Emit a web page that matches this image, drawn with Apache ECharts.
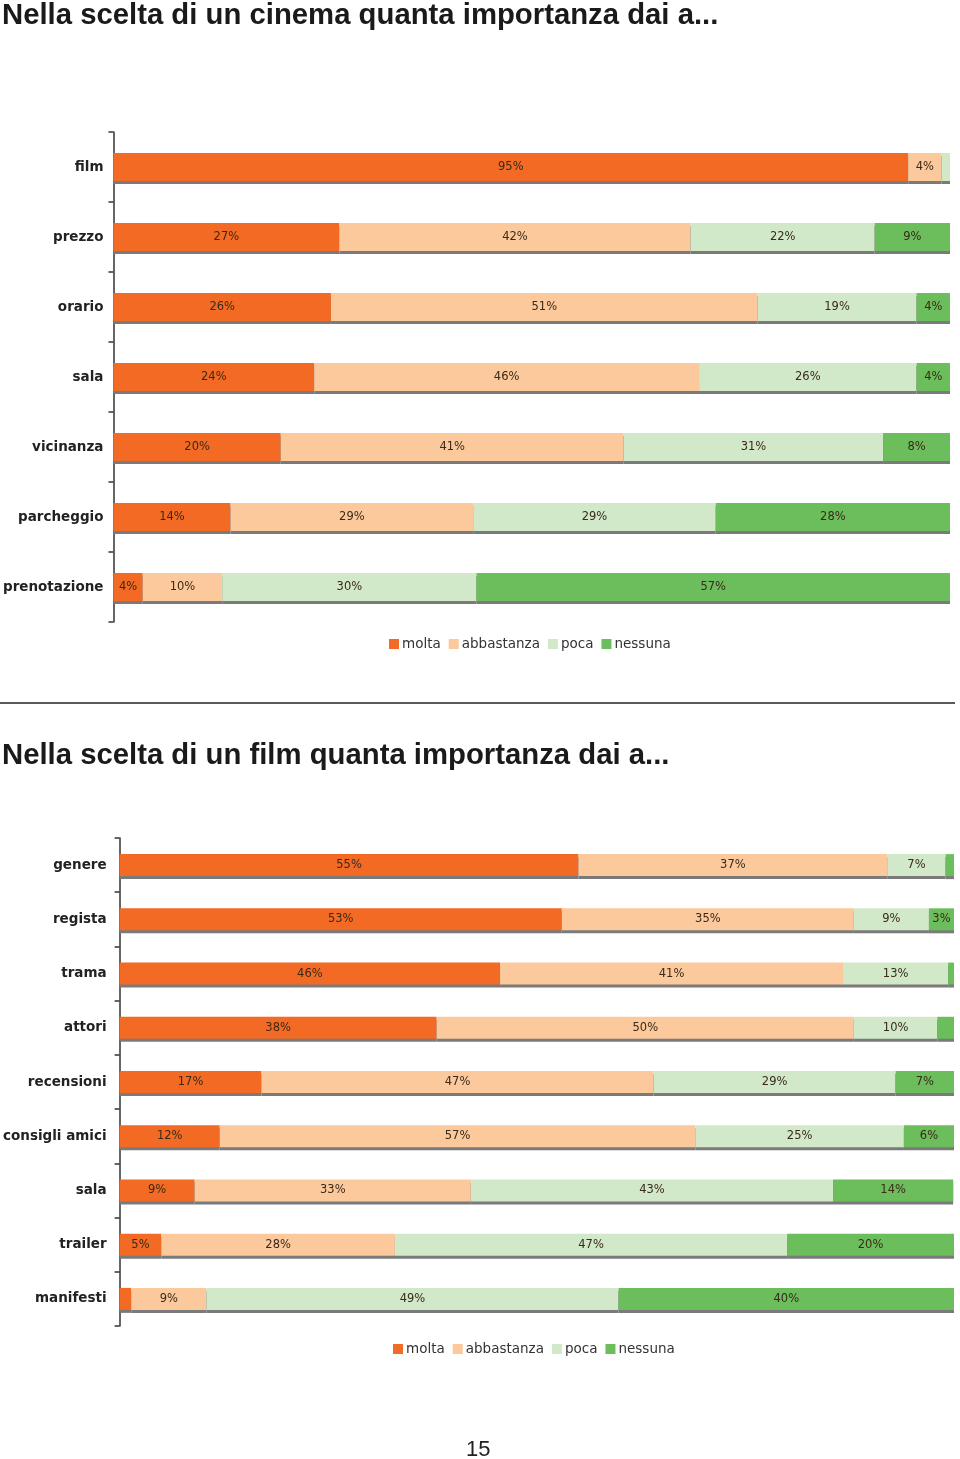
<!DOCTYPE html>
<html><head><meta charset="utf-8">
<script src="https://cdn.jsdelivr.net/npm/echarts@6/dist/echarts.min.js"></script>
<style>html,body{margin:0;padding:0;background:#fff}#c{width:960px;height:1459px}</style>
</head><body><div id="c"></div>
<script>
// Chart 1: Nella scelta di un cinema ...
const cats1 = ['film','prezzo','orario','sala','vicinanza','parcheggio','prenotazione'];
const molta1      = [95, 27, 26, 24, 20, 14, 3.5];
const abbastanza1 = [4, 42, 51, 46, 41, 29, 9.5];
const poca1       = [1, 22, 19, 26, 31, 29, 30.4];
const nessuna1    = [0, 9, 4, 4, 8, 28, 56.6];
// Chart 2: Nella scelta di un film ...
const cats2 = ['genere','regista','trama','attori','recensioni','consigli amici','sala','trailer','manifesti'];
const molta2      = [55, 53, 45.6, 38, 17, 12, 9, 5, 1.4];
const abbastanza2 = [37, 35, 41.1, 50, 47, 57, 33.1, 28, 9];
const poca2       = [7, 9, 12.6, 10, 29, 25, 43.4, 47, 49.4];
const nessuna2    = [1, 3, 0.7, 2, 7, 6, 14.4, 20, 40.2];
const seriesNames = ['molta','abbastanza','poca','nessuna'];
const colors = ['#f26a23','#fbc99b','#d1e8c9','#6cbd5b'];
const title1 = 'Nella scelta di un cinema quanta importanza dai a...';
const title2 = 'Nella scelta di un film quanta importanza dai a...';
const pageNum = '15';

const chart = echarts.init(document.getElementById('c'), null, {renderer:'canvas'});
function mk(name, data, idx, axisIdx, bw){
  return {
    name, type:'bar', stack:'s'+axisIdx, xAxisIndex:axisIdx, yAxisIndex:axisIdx,
    data, barWidth:bw,
    itemStyle:{color:colors[idx], shadowColor:'#7a7a7a', shadowOffsetY:3, shadowBlur:0},
    label:{show:true, position:'inside', fontFamily:'DejaVu Sans', fontSize:11.5, color:'#3a2a1a',
      formatter:p=> p.value<2.5 ? '' : Math.round(p.value)+'%'},
    emphasis:{disabled:true}, animation:false
  };
}
const yBase = {
  type:'category', inverse:true,
  axisLine:{lineStyle:{color:'#333', width:1.5}},
  axisTick:{show:true, length:5, lineStyle:{color:'#333', width:1.5}},
  axisLabel:{fontFamily:'DejaVu Sans', fontWeight:'bold', fontSize:13.5, color:'#222', margin:10}
};
const legBase = {itemWidth:10, itemHeight:10, itemGap:8, icon:'rect',
  textStyle:{fontFamily:'DejaVu Sans', fontSize:13.5, color:'#333', padding:[0,0,0,-2]}, data:seriesNames};
chart.setOption({
  animation:false,
  grid:[
    {left:111, right:10, top:132, height:490},
    {left:117, right:6, top:838, height:488}
  ],
  xAxis:[
    {type:'value', gridIndex:0, min:0, max:100, show:false},
    {type:'value', gridIndex:1, min:0, max:100, show:false}
  ],
  yAxis:[
    Object.assign({}, yBase, {gridIndex:0, data:cats1}),
    Object.assign({}, yBase, {gridIndex:1, data:cats2,
      axisLabel:Object.assign({}, yBase.axisLabel, {margin:13})})
  ],
  legend:[
    Object.assign({}, legBase, {left:384, top:632}),
    Object.assign({}, legBase, {left:388, top:1337})
  ],
  series:[
    mk('molta', molta1, 0, 0, 28), mk('abbastanza', abbastanza1, 1, 0, 28),
    mk('poca', poca1, 2, 0, 28), mk('nessuna', nessuna1, 3, 0, 28),
    mk('molta', molta2, 0, 1, 22), mk('abbastanza', abbastanza2, 1, 1, 22),
    mk('poca', poca2, 2, 1, 22), mk('nessuna', nessuna2, 3, 1, 22)
  ],
  graphic:[
    {type:'text', left:2, top:1, style:{text:title1, font:'bold 29.3px "Liberation Sans", Arial', fill:'#1a1a1a'}},
    {type:'line', shape:{x1:0, y1:703, x2:955, y2:703}, style:{stroke:'#222', lineWidth:1.5}},
    {type:'text', left:2, top:741, style:{text:title2, font:'bold 29.3px "Liberation Sans", Arial', fill:'#1a1a1a'}},
    {type:'text', left:466, top:1439, style:{text:pageNum, font:'22px "Liberation Sans", Arial', fill:'#222'}}
  ]
});
</script></body></html>
